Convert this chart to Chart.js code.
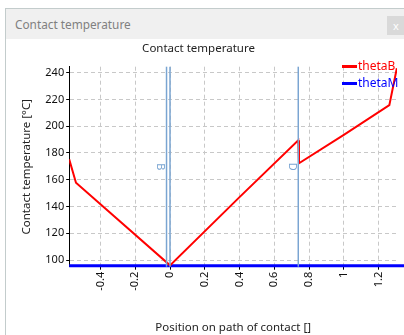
<!DOCTYPE html>
<html>
<head>
<meta charset="utf-8">
<script src="https://cdn.jsdelivr.net/npm/chart.js@4/dist/chart.umd.min.js"></script>
<style>
  html, body { margin: 0; padding: 0; width: 404px; height: 335px; overflow: hidden; background: #fff; font-family: "Noto Sans", sans-serif; }
  #win { position: absolute; left: 5px; top: 8px; width: 430px; height: 350px; border: 1px solid #c3cccc; background: #fff; }
  #bar { position: absolute; left: 0; top: 0; right: 0; height: 30px; background: #f0f0f0; }
  #wtitle { position: absolute; left: 9px; top: 7px; font-size: 11.8px; color: #808080; }
  #close { position: absolute; left: 381px; top: 7px; width: 18px; height: 19px; background: #d9d9d9; color: #fff; font-size: 11px; line-height: 19px; text-align: center; }
  #wrap { position: absolute; left: 0; top: 39px; width: 404px; height: 296px; }
  .leg { position: absolute; left: 342px; font-size: 12px; line-height: 17px; white-space: nowrap; }
  .leg span { display: inline-block; width: 15px; height: 3px; vertical-align: middle; margin-right: 1px; }
</style>
</head>
<body>
<div id="win">
  <div id="bar"><div id="wtitle">Contact temperature</div><div id="close">x</div></div>
</div>
<div id="wrap"><canvas id="myChart" width="404" height="296"></canvas></div>
<div id="legend"></div>
<script>
// thetaB curve (position on path of contact, temperature)
const posB = [-0.58, -0.541, 0, 0.4, 0.738, 0.742, 1.0, 1.262, 1.305];
const thetaB = [175.3, 157.8, 96, 147, 189.5, 172.3, 193.5, 215.8, 243.3];
// thetaM is flat along the bottom
const posM = [-0.58, 1.36];
const thetaM = [95.8, 95.8];

const seriesNames = ['thetaB', 'thetaM'];
const seriesColors = ['#ff0000', '#0000ff'];

const xTicks = [-0.4, -0.2, 0, 0.2, 0.4, 0.6, 0.8, 1, 1.2];
const yTicks = [100, 120, 140, 160, 180, 200, 220, 240];

// marker lines on the path of contact
const markerPos = [-0.02, 0, 0.738];
const markerText = ['B', '', 'D'];

const FONT = '"Noto Sans", sans-serif';
const markerColor = '#7aa5d2';

const markerPlugin = {
    id: 'markers',
    afterDatasetsDraw(chart) {
        const ctx = chart.ctx;
        const area = chart.chartArea;
        const xs = chart.scales.x;
        const midY = (area.top + area.bottom) / 2;
        ctx.save();
        markerPos.forEach((p, i) => {
            const px = xs.getPixelForValue(p);
            ctx.strokeStyle = markerColor;
            ctx.lineWidth = 1.5;
            ctx.beginPath();
            ctx.moveTo(px, area.top);
            ctx.lineTo(px, area.bottom);
            ctx.stroke();
            if (markerText[i]) {
                ctx.save();
                ctx.translate(px - 9.3, midY);
                ctx.rotate(Math.PI / 2);
                ctx.fillStyle = markerColor;
                ctx.font = '11px ' + FONT;
                ctx.textAlign = 'center';
                ctx.textBaseline = 'alphabetic';
                ctx.fillText(markerText[i], 0, 0);
                ctx.restore();
            }
        });
        ctx.restore();
    }
};

function makeLegend() {
    const box = document.querySelector('#legend');
    const tops = [56.5, 74.2];
    seriesNames.forEach((name, i) => {
        const row = document.createElement('div');
        row.className = 'leg';
        row.style.top = tops[i] + 'px';
        row.style.color = seriesColors[i];
        row.innerHTML = '<span style="background:' + seriesColors[i] + '"></span>' + name;
        box.appendChild(row);
    });
}

function initChart(target) {
    const data = {
        datasets: [{
            label: seriesNames[0],
            data: posB.map((x, i) => ({ x: x, y: thetaB[i] })),
            borderColor: seriesColors[0],
            borderWidth: 2,
            pointRadius: 0,
            showLine: true,
            order: 1
        }, {
            label: seriesNames[1],
            data: posM.map((x, i) => ({ x: x, y: thetaM[i] })),
            borderColor: seriesColors[1],
            borderWidth: 3,
            pointRadius: 0,
            showLine: true,
            clip: false,
            order: 2
        }]
    };

    const tickFont = { family: FONT, size: 11 };
    const gridOpts = { color: '#c8c8c8', tickColor: '#000', tickLength: 3, tickBorderDash: [] };

    const config = {
        type: 'scatter',
        data: data,
        options: {
            responsive: false,
            animation: false,
            devicePixelRatio: 1,
            layout: { padding: { left: 0, right: 7, top: 0, bottom: 0 } },
            plugins: {
                legend: { display: false },
                tooltip: { enabled: false },
                title: {
                    display: true,
                    text: 'Contact temperature',
                    color: '#222',
                    font: { family: FONT, size: 11.5, weight: 'normal' },
                    padding: { top: 2.5, bottom: 11.4 }
                }
            },
            scales: {
                x: {
                    type: 'linear',
                    min: -0.58,
                    max: 1.306,
                    afterBuildTicks: (s) => { s.ticks = xTicks.map((v) => ({ value: v })); },
                    afterFit: (s) => { s.height = 68.3; },
                    ticks: {
                        autoSkip: false,
                        minRotation: 90,
                        maxRotation: 90,
                        padding: 2,
                        color: '#111',
                        font: tickFont,
                        callback: (v) => String(v)
                    },
                    grid: gridOpts,
                    border: { color: '#000', dash: [4, 3] },
                    title: {
                        display: true,
                        text: 'Position on path of contact []',
                        color: '#222',
                        font: { family: FONT, size: 11.5 },
                        padding: { top: 0, bottom: 0 }
                    }
                },
                y: {
                    min: 95,
                    max: 244.5,
                    afterBuildTicks: (s) => { s.ticks = yTicks.map((v) => ({ value: v })); },
                    afterFit: (s) => { s.width = 69.2; },
                    ticks: {
                        padding: 2,
                        color: '#111',
                        font: tickFont,
                        callback: (v) => String(v)
                    },
                    grid: gridOpts,
                    border: { color: '#000', dash: [4, 3] },
                    title: {
                        display: true,
                        text: 'Contact temperature [°C]',
                        color: '#222',
                        font: { family: FONT, size: 11.5 },
                        padding: { top: 19.8, bottom: 0 }
                    }
                }
            }
        },
        plugins: [markerPlugin]
    };

    return new Chart(target, config);
}

makeLegend();
initChart(document.querySelector('#myChart'));
</script>
</body>
</html>
